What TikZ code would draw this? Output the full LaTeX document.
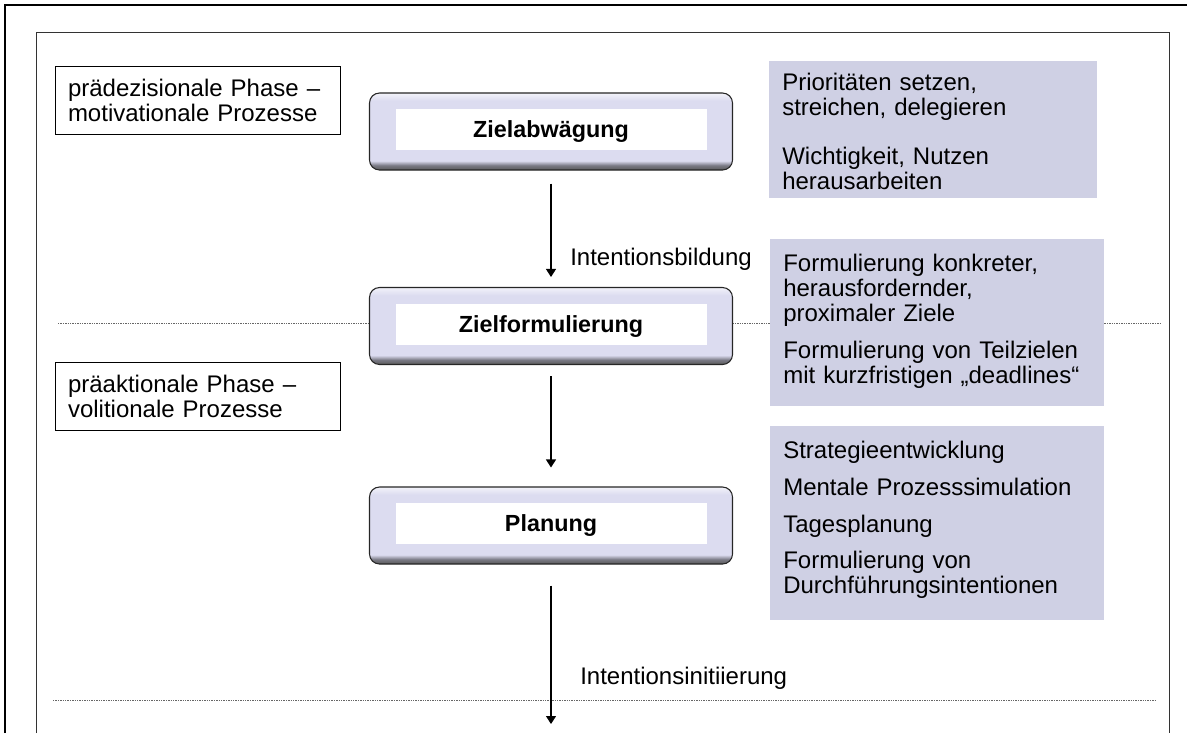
\documentclass[tikz,border=0pt]{standalone}
\usepackage{fontspec}
\setmainfont{Liberation Sans}
\usetikzlibrary{arrows.meta, positioning}

\definecolor{procfill}{HTML}{DCDCF0}
\definecolor{notefill}{HTML}{CFD0E4}
\colorlet{procdark}{procfill!55!black}
\colorlet{procedge}{black!65}
\colorlet{proclight}{procfill!35}
\pgfdeclareverticalshading{procshade}{100bp}{color(0bp)=(procedge); color(25bp)=(procedge); color(28bp)=(procdark); color(31bp)=(procfill); color(70bp)=(procfill); color(75bp)=(proclight); color(100bp)=(proclight)}

\tikzset{
	txt/.style = {font=\fontsize{18}{18.75}\selectfont},
	phasebox/.style = {txt, draw, line width=0.6pt, minimum width=213.75pt, minimum height=51pt,
		text width=194.25pt, inner xsep=9.75pt, inner ysep=0pt, align=left},
	procbox/.style = {rounded corners=7.5pt, draw=black!85, line width=0.8pt, shading=procshade,
		minimum width=272.25pt, minimum height=57.75pt, inner sep=0pt},
	proctext/.style = {fill=white, minimum width=233.25pt, minimum height=30.75pt, inner sep=0pt,
		text depth=0pt, font=\fontsize{17.5}{21}\selectfont\bfseries},
	notebox/.style = {fill=notefill, inner sep=0pt, anchor=north west},
	notetext/.style = {txt, anchor=north west, inner sep=0pt, text width=231pt, align=left},
	flow/.style = {-{Triangle[length=6pt, width=7.5pt]}, line width=0.8pt},
	sepline/.style = {black!60, line width=0.6pt, dash pattern=on 1.1pt off 0.7pt}
}

\begin{document}
\begin{tikzpicture}[x=0.75pt, y=-0.75pt]
	\useasboundingbox (0,0) rectangle (1196,733);
	
	% frames
	\draw[line width=1.5pt] (4.5,733) -- (4.5,5) -- (1187,5);
	\draw[line width=0.75pt, black!80] (36,733) -- (36,32) -- (1169,32) -- (1169,733);
	
	% phase borders
	\draw[sepline] (58,323) -- (1160,323);
	\draw[sepline] (53,700) -- (1155,700);
	
	% notes
	\node[notebox, minimum width=246pt, minimum height=102.75pt] (n1) at (769,61) {};
	\node[notetext] (n1t) at (782,73) {Prioritäten setzen,\\ streichen, delegieren\\[18pt] Wichtigkeit, Nutzen\\ herausarbeiten};
	\node[notebox, minimum width=250.5pt, minimum height=125.25pt] (n2) at (770,239) {};
	\node[notetext] (n2t) at (783,254) {Formulierung konkreter,\\ herausfordernder,\\ proximaler Ziele\\[8.8pt] Formulierung von Teilzielen\\ mit kurzfristigen „deadlines“};
	\node[notebox, minimum width=250.5pt, minimum height=145.5pt] (n3) at (770,426) {};
	\node[notetext] (n3t) at (783,441) {Strategieentwicklung\\[8.8pt] Mentale Prozesssimulation\\[8.8pt] Tagesplanung\\[8.8pt] Formulierung von\\ Durchführungsintentionen};
	
	% phases
	\node[phasebox] (pre) at (197.5,100) {prädezisionale Phase –\\ motivationale Prozesse};
	\node[phasebox] (pra) at (197.5,396) {präaktionale Phase –\\ volitionale Prozesse};
	
	% steps
	\node[procbox] (zab) at (551,131.5) {};
	\node[proctext] (zab-t) at ([yshift=1.5pt]zab.center) {Zielabwägung};
	\node[procbox] (zfo) at (551,326) {};
	\node[proctext] (zfo-t) at ([yshift=1.5pt]zfo.center) {Zielformulierung};
	\node[procbox] (pla) at (551,525.5) {};
	\node[proctext] (pla-t) at ([yshift=1.5pt]pla.center) {Planung};
	
	\coordinate (act) at (551,724);
	\draw[flow, shorten <=9.75pt, shorten >=7.5pt] (zab.south) -- (zfo.north);
	\draw[flow, shorten <=8.25pt, shorten >=14.25pt] (zfo.south) -- (pla.north);
	\draw[flow, shorten <=15.75pt] (pla.south) -- (act);
	
	\node[txt, anchor=base west, inner sep=0pt] (ib) at (570,265) {Intentionsbildung};
	\node[txt, anchor=base west, inner sep=0pt] (ii) at (580,684) {Intentionsinitiierung};
\end{tikzpicture}
\end{document}
